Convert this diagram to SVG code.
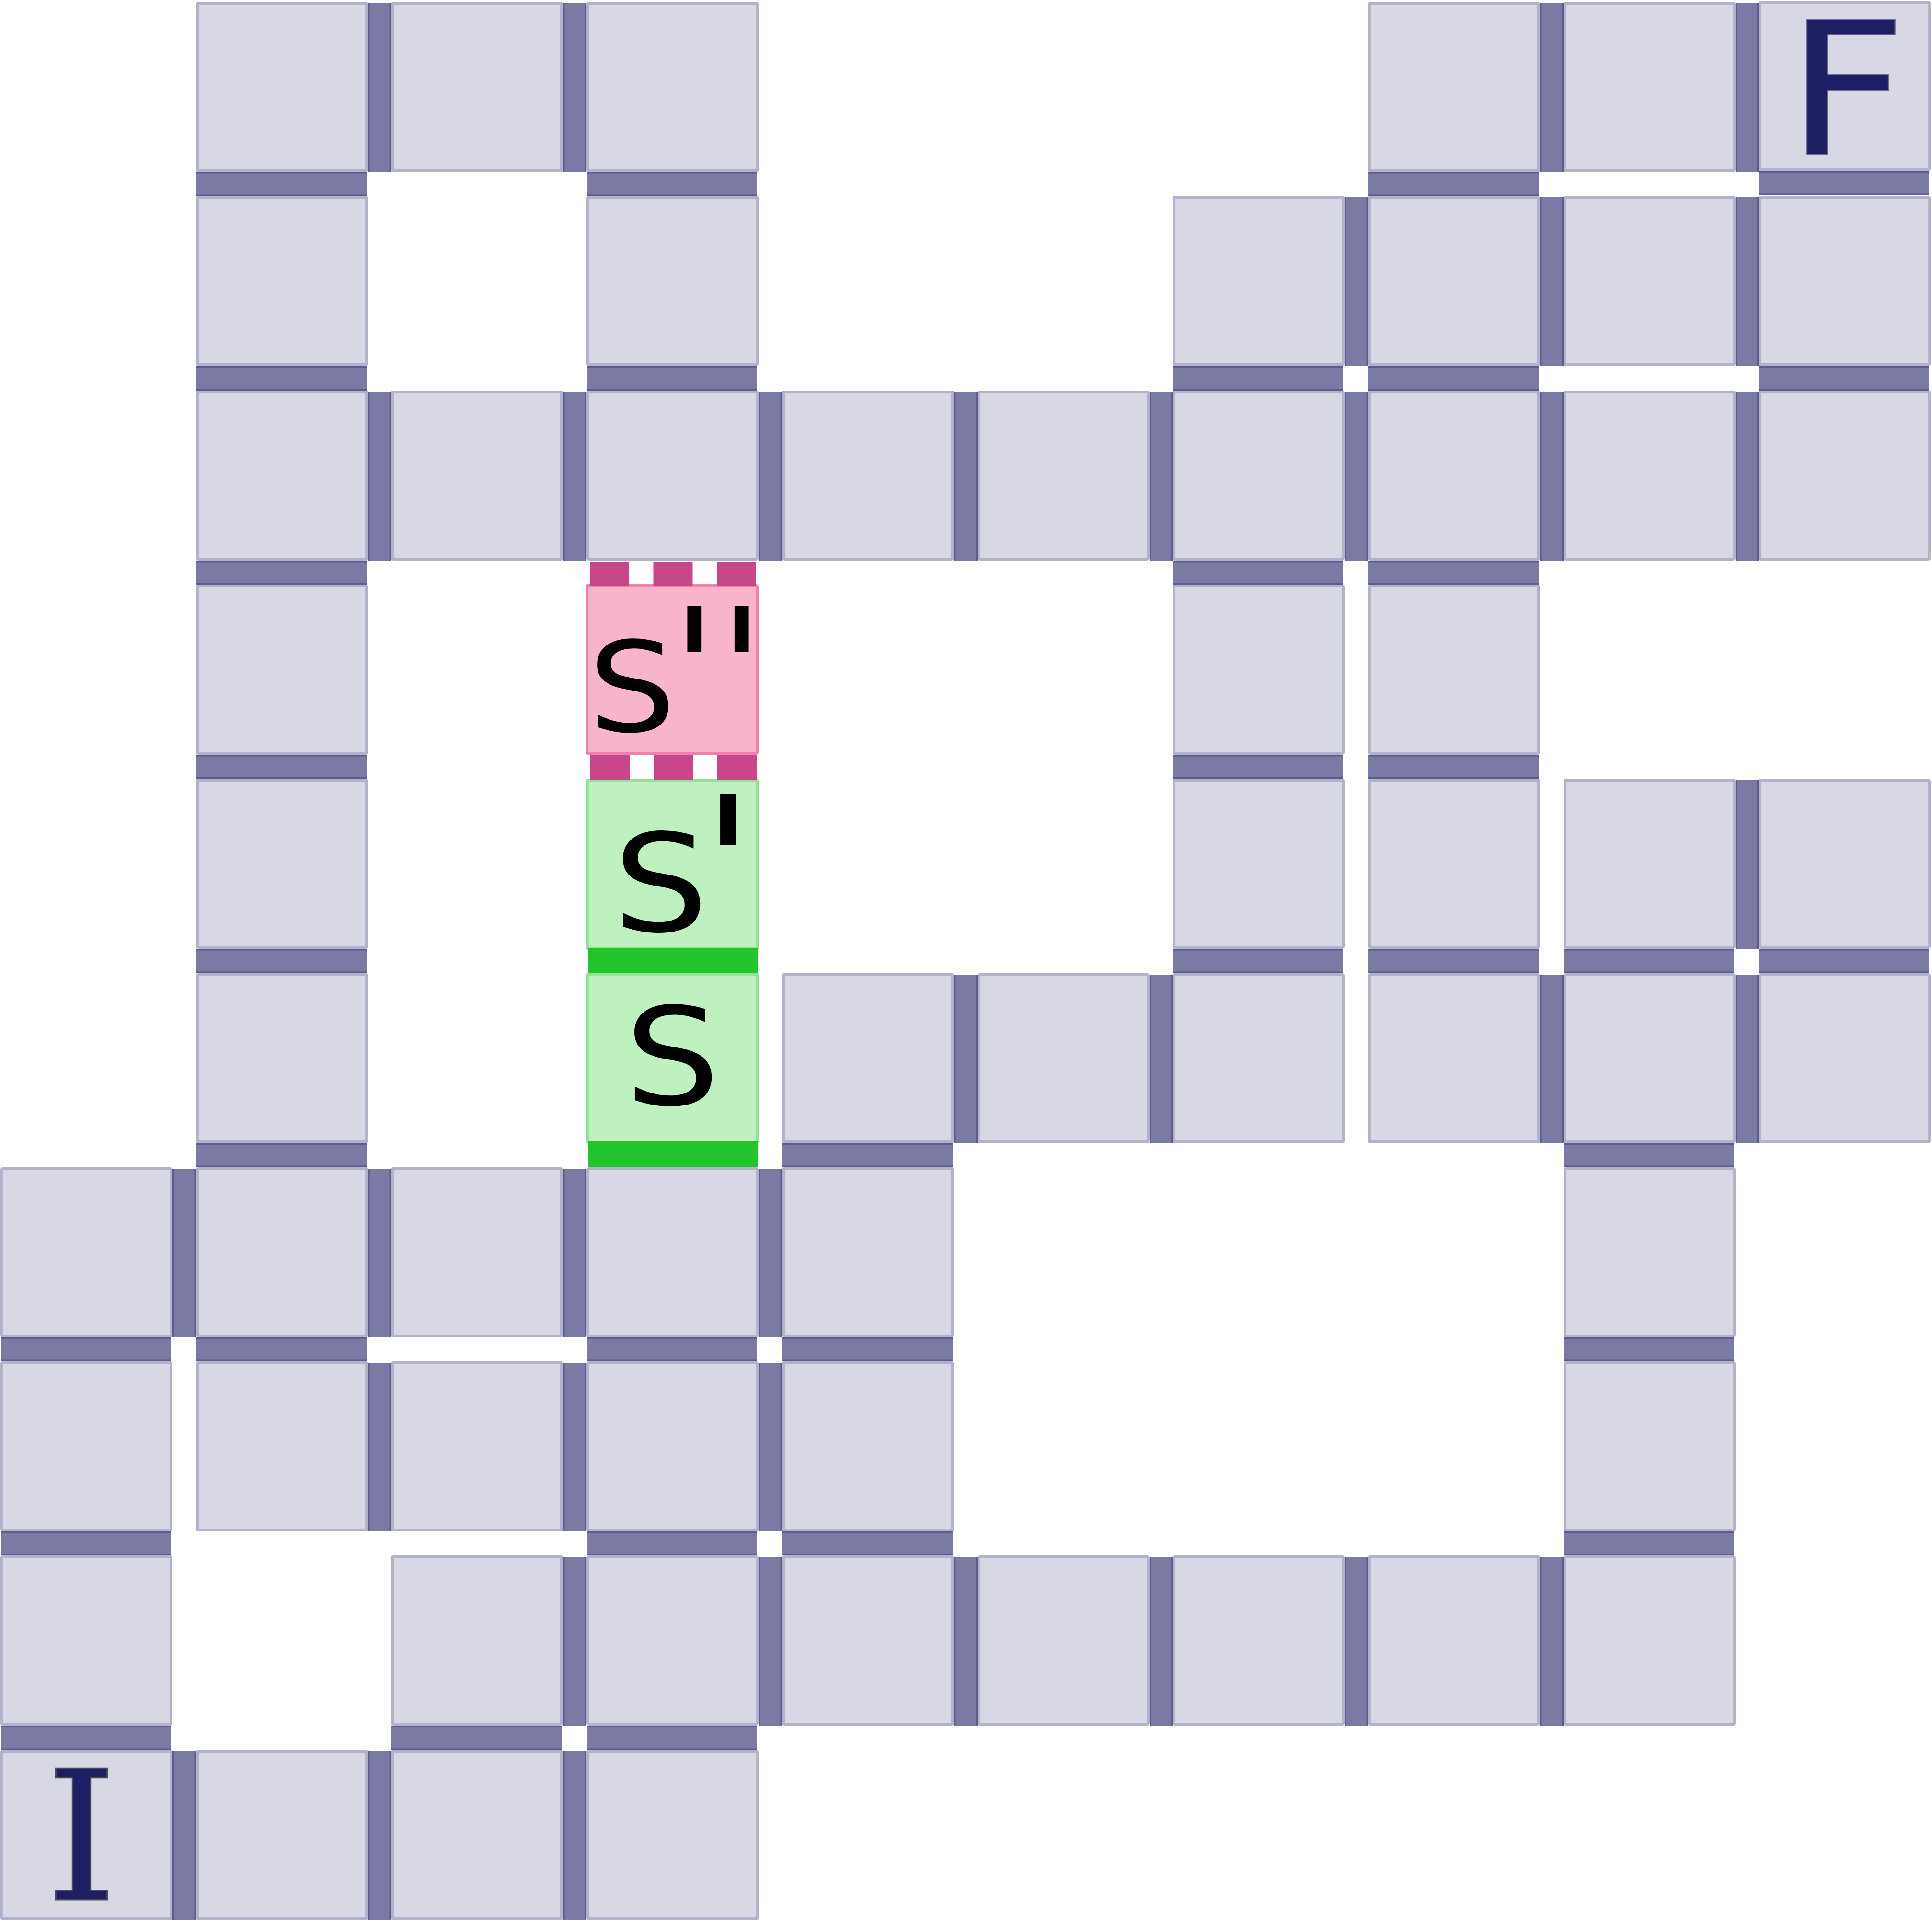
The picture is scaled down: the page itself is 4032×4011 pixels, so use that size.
<svg xmlns="http://www.w3.org/2000/svg" xmlns:xlink="http://www.w3.org/1999/xlink" width="4032" height="4011" viewBox="0 0 4032 4011">
<style>
.cell{fill:#d8d8e4;stroke:#b3b2cc;stroke-width:6}
.pink{fill:#f8b4c8;stroke:#f081aa;stroke-width:6}
.green{fill:#bef0c0;stroke:#93e295;stroke-width:6}
.cf{fill:#7b7aa4}
.ce{fill:none;stroke:#5d5c8f;stroke-width:3.5}
.lbl{font-family:"DejaVu Sans","Liberation Sans",sans-serif;fill:#000}
.end{fill:#1e1e62;stroke:#6e6e9e;stroke-width:2}
</style>
<defs>
<g id="hc"><rect class="cf" x="0" y="0" width="49" height="352"/><path class="ce" d="M1.75 0v352M47.25 0v352"/></g>
<g id="hc8"><rect class="cf" x="0" y="0" width="48" height="352"/><path class="ce" d="M1.75 0v352M46.25 0v352"/></g>
<g id="vc"><rect class="cf" x="0" y="0" width="355" height="50"/><path class="ce" d="M0 1.75h355M0 48.25h355"/></g>
<g id="vc1"><rect class="cf" x="0" y="0" width="355" height="51"/><path class="ce" d="M0 1.75h355M0 49.25h355"/></g>
</defs>
<rect x="0" y="0" width="4032" height="4011" fill="#ffffff"/>
<g id="nodes">
<g id="r0c1"><rect class="cell" x="412" y="7" width="353" height="349" rx="2"/></g>
<g id="r0c2"><rect class="cell" x="819" y="7" width="353" height="349" rx="2"/></g>
<g id="r0c3"><rect class="cell" x="1227" y="7" width="353" height="349" rx="2"/></g>
<g id="r0c7"><rect class="cell" x="2858" y="7" width="353" height="349" rx="2"/></g>
<g id="r0c8"><rect class="cell" x="3266" y="7" width="353" height="349" rx="2"/></g>
<g id="r0c9-F"><rect class="cell" x="3673" y="5" width="353" height="349" rx="2"/><text class="end" transform="translate(3728,323) scale(1.13,1)" font-family="DejaVu Sans, sans-serif" font-size="388">F</text></g>
<g id="r1c1"><rect class="cell" x="412" y="412" width="353" height="349" rx="2"/></g>
<g id="r1c3"><rect class="cell" x="1227" y="412" width="353" height="349" rx="2"/></g>
<g id="r1c6"><rect class="cell" x="2450" y="412" width="353" height="349" rx="2"/></g>
<g id="r1c7"><rect class="cell" x="2858" y="412" width="353" height="349" rx="2"/></g>
<g id="r1c8"><rect class="cell" x="3266" y="412" width="353" height="349" rx="2"/></g>
<g id="r1c9"><rect class="cell" x="3673" y="412" width="353" height="349" rx="2"/></g>
<g id="r2c1"><rect class="cell" x="412" y="818" width="353" height="349" rx="2"/></g>
<g id="r2c2"><rect class="cell" x="819" y="818" width="353" height="349" rx="2"/></g>
<g id="r2c3"><rect class="cell" x="1227" y="818" width="353" height="349" rx="2"/></g>
<g id="r2c4"><rect class="cell" x="1635" y="818" width="353" height="349" rx="2"/></g>
<g id="r2c5"><rect class="cell" x="2043" y="818" width="353" height="349" rx="2"/></g>
<g id="r2c6"><rect class="cell" x="2450" y="818" width="353" height="349" rx="2"/></g>
<g id="r2c7"><rect class="cell" x="2858" y="818" width="353" height="349" rx="2"/></g>
<g id="r2c8"><rect class="cell" x="3266" y="818" width="353" height="349" rx="2"/></g>
<g id="r2c9"><rect class="cell" x="3673" y="818" width="353" height="349" rx="2"/></g>
<g id="r3c1"><rect class="cell" x="412" y="1223" width="353" height="349" rx="2"/></g>
<g id="r3c3-S2"><rect class="pink" x="1225" y="1222" width="355" height="350" rx="2"/><text class="lbl" transform="translate(1319,1526) scale(1.11,1)" text-anchor="middle" font-size="261">S</text><text class="lbl" x="1400" y="1525" font-size="358">''</text></g>
<g id="r3c6"><rect class="cell" x="2450" y="1223" width="353" height="349" rx="2"/></g>
<g id="r3c7"><rect class="cell" x="2858" y="1223" width="353" height="349" rx="2"/></g>
<g id="r4c1"><rect class="cell" x="412" y="1628" width="353" height="349" rx="2"/></g>
<g id="r4c3-S1"><rect class="green" x="1226" y="1628" width="355" height="352" rx="2"/><text class="lbl" transform="translate(1379,1943) scale(1.11,1)" text-anchor="middle" font-size="283">S</text><text class="lbl" x="1465" y="1945" font-size="396">'</text></g>
<g id="r4c6"><rect class="cell" x="2450" y="1628" width="353" height="349" rx="2"/></g>
<g id="r4c7"><rect class="cell" x="2858" y="1628" width="353" height="349" rx="2"/></g>
<g id="r4c8"><rect class="cell" x="3266" y="1628" width="353" height="349" rx="2"/></g>
<g id="r4c9"><rect class="cell" x="3673" y="1628" width="353" height="349" rx="2"/></g>
<g id="r5c1"><rect class="cell" x="412" y="2034" width="353" height="349" rx="2"/></g>
<g id="r5c3-S"><rect class="green" x="1226" y="2033" width="355" height="351" rx="2"/><text class="lbl" transform="translate(1403,2305) scale(1.11,1)" text-anchor="middle" font-size="283">S</text></g>
<g id="r5c4"><rect class="cell" x="1635" y="2034" width="353" height="349" rx="2"/></g>
<g id="r5c5"><rect class="cell" x="2043" y="2034" width="353" height="349" rx="2"/></g>
<g id="r5c6"><rect class="cell" x="2450" y="2034" width="353" height="349" rx="2"/></g>
<g id="r5c7"><rect class="cell" x="2858" y="2034" width="353" height="349" rx="2"/></g>
<g id="r5c8"><rect class="cell" x="3266" y="2034" width="353" height="349" rx="2"/></g>
<g id="r5c9"><rect class="cell" x="3673" y="2034" width="353" height="349" rx="2"/></g>
<g id="r6c0"><rect class="cell" x="4" y="2439" width="353" height="349" rx="2"/></g>
<g id="r6c1"><rect class="cell" x="412" y="2439" width="353" height="349" rx="2"/></g>
<g id="r6c2"><rect class="cell" x="819" y="2439" width="353" height="349" rx="2"/></g>
<g id="r6c3"><rect class="cell" x="1227" y="2439" width="353" height="349" rx="2"/></g>
<g id="r6c4"><rect class="cell" x="1635" y="2439" width="353" height="349" rx="2"/></g>
<g id="r6c8"><rect class="cell" x="3266" y="2439" width="353" height="349" rx="2"/></g>
<g id="r7c0"><rect class="cell" x="4" y="2844" width="353" height="349" rx="2"/></g>
<g id="r7c1"><rect class="cell" x="412" y="2844" width="353" height="349" rx="2"/></g>
<g id="r7c2"><rect class="cell" x="819" y="2844" width="353" height="349" rx="2"/></g>
<g id="r7c3"><rect class="cell" x="1227" y="2844" width="353" height="349" rx="2"/></g>
<g id="r7c4"><rect class="cell" x="1635" y="2844" width="353" height="349" rx="2"/></g>
<g id="r7c8"><rect class="cell" x="3266" y="2844" width="353" height="349" rx="2"/></g>
<g id="r8c0"><rect class="cell" x="4" y="3249" width="353" height="349" rx="2"/></g>
<g id="r8c2"><rect class="cell" x="819" y="3249" width="353" height="349" rx="2"/></g>
<g id="r8c3"><rect class="cell" x="1227" y="3249" width="353" height="349" rx="2"/></g>
<g id="r8c4"><rect class="cell" x="1635" y="3249" width="353" height="349" rx="2"/></g>
<g id="r8c5"><rect class="cell" x="2043" y="3249" width="353" height="349" rx="2"/></g>
<g id="r8c6"><rect class="cell" x="2450" y="3249" width="353" height="349" rx="2"/></g>
<g id="r8c7"><rect class="cell" x="2858" y="3249" width="353" height="349" rx="2"/></g>
<g id="r8c8"><rect class="cell" x="3266" y="3249" width="353" height="349" rx="2"/></g>
<g id="r9c0-I"><rect class="cell" x="4" y="3655" width="353" height="349" rx="2"/><text class="end" x="170" y="3965" text-anchor="middle" font-family="DejaVu Serif, serif" font-size="377" style="stroke:#4a4a5a;stroke-width:3">I</text></g>
<g id="r9c1"><rect class="cell" x="412" y="3655" width="353" height="349" rx="2"/></g>
<g id="r9c2"><rect class="cell" x="819" y="3655" width="353" height="349" rx="2"/></g>
<g id="r9c3"><rect class="cell" x="1227" y="3655" width="353" height="349" rx="2"/></g>
</g>
<g id="connectors">
<use xlink:href="#hc8" x="768" y="7"/><use xlink:href="#hc" x="1175" y="7"/><use xlink:href="#hc" x="3214" y="7"/><use xlink:href="#hc8" x="3622" y="7"/>
<use xlink:href="#hc" x="2806" y="412"/><use xlink:href="#hc" x="3214" y="412"/><use xlink:href="#hc8" x="3622" y="412"/>
<use xlink:href="#hc8" x="768" y="818"/><use xlink:href="#hc" x="1175" y="818"/><use xlink:href="#hc" x="1583" y="818"/><use xlink:href="#hc" x="1991" y="818"/><use xlink:href="#hc8" x="2399" y="818"/><use xlink:href="#hc" x="2806" y="818"/><use xlink:href="#hc" x="3214" y="818"/><use xlink:href="#hc8" x="3622" y="818"/>
<use xlink:href="#hc8" x="3622" y="1628"/>
<use xlink:href="#hc" x="1991" y="2034"/><use xlink:href="#hc8" x="2399" y="2034"/><use xlink:href="#hc" x="3214" y="2034"/><use xlink:href="#hc8" x="3622" y="2034"/>
<use xlink:href="#hc" x="360" y="2439"/><use xlink:href="#hc8" x="768" y="2439"/><use xlink:href="#hc" x="1175" y="2439"/><use xlink:href="#hc" x="1583" y="2439"/>
<use xlink:href="#hc8" x="768" y="2844"/><use xlink:href="#hc" x="1175" y="2844"/><use xlink:href="#hc" x="1583" y="2844"/>
<use xlink:href="#hc" x="1175" y="3249"/><use xlink:href="#hc" x="1583" y="3249"/><use xlink:href="#hc" x="1991" y="3249"/><use xlink:href="#hc8" x="2399" y="3249"/><use xlink:href="#hc" x="2806" y="3249"/><use xlink:href="#hc" x="3214" y="3249"/>
<use xlink:href="#hc" x="360" y="3655"/><use xlink:href="#hc8" x="768" y="3655"/><use xlink:href="#hc" x="1175" y="3655"/>
<use xlink:href="#vc" x="410" y="359"/><use xlink:href="#vc" x="1225" y="359"/><use xlink:href="#vc" x="2856" y="359"/><use xlink:href="#vc" x="3671" y="357"/>
<use xlink:href="#vc1" x="410" y="764"/><use xlink:href="#vc1" x="1225" y="764"/><use xlink:href="#vc1" x="2448" y="764"/><use xlink:href="#vc1" x="2856" y="764"/><use xlink:href="#vc1" x="3671" y="764"/>
<use xlink:href="#vc" x="410" y="1170"/><use xlink:href="#vc" x="2448" y="1170"/><use xlink:href="#vc" x="2856" y="1170"/>
<use xlink:href="#vc" x="410" y="1575"/><use xlink:href="#vc" x="2448" y="1575"/><use xlink:href="#vc" x="2856" y="1575"/>
<use xlink:href="#vc1" x="410" y="1980"/><use xlink:href="#vc1" x="2448" y="1980"/><use xlink:href="#vc1" x="2856" y="1980"/><use xlink:href="#vc1" x="3264" y="1980"/><use xlink:href="#vc1" x="3671" y="1980"/>
<use xlink:href="#vc" x="410" y="2386"/><use xlink:href="#vc" x="1633" y="2386"/><use xlink:href="#vc" x="3264" y="2386"/>
<use xlink:href="#vc" x="2" y="2791"/><use xlink:href="#vc" x="410" y="2791"/><use xlink:href="#vc" x="1225" y="2791"/><use xlink:href="#vc" x="1633" y="2791"/><use xlink:href="#vc" x="3264" y="2791"/>
<use xlink:href="#vc" x="2" y="3196"/><use xlink:href="#vc" x="1225" y="3196"/><use xlink:href="#vc" x="1633" y="3196"/><use xlink:href="#vc" x="3264" y="3196"/>
<use xlink:href="#vc1" x="2" y="3601"/><use xlink:href="#vc1" x="817" y="3601"/><use xlink:href="#vc1" x="1225" y="3601"/>
<path d="M1231 1197.5H1578" stroke="#c8478a" stroke-width="51" stroke-dasharray="82 50.5" fill="none"/>
<path d="M1232 1601H1579" stroke="#c8478a" stroke-width="52" stroke-dasharray="82 50.5" fill="none"/>
<rect x="1228" y="1978" width="354" height="53" fill="#22c62a"/>
<rect x="1227" y="2382" width="354" height="53" fill="#22c62a"/>
</g>
</svg>
